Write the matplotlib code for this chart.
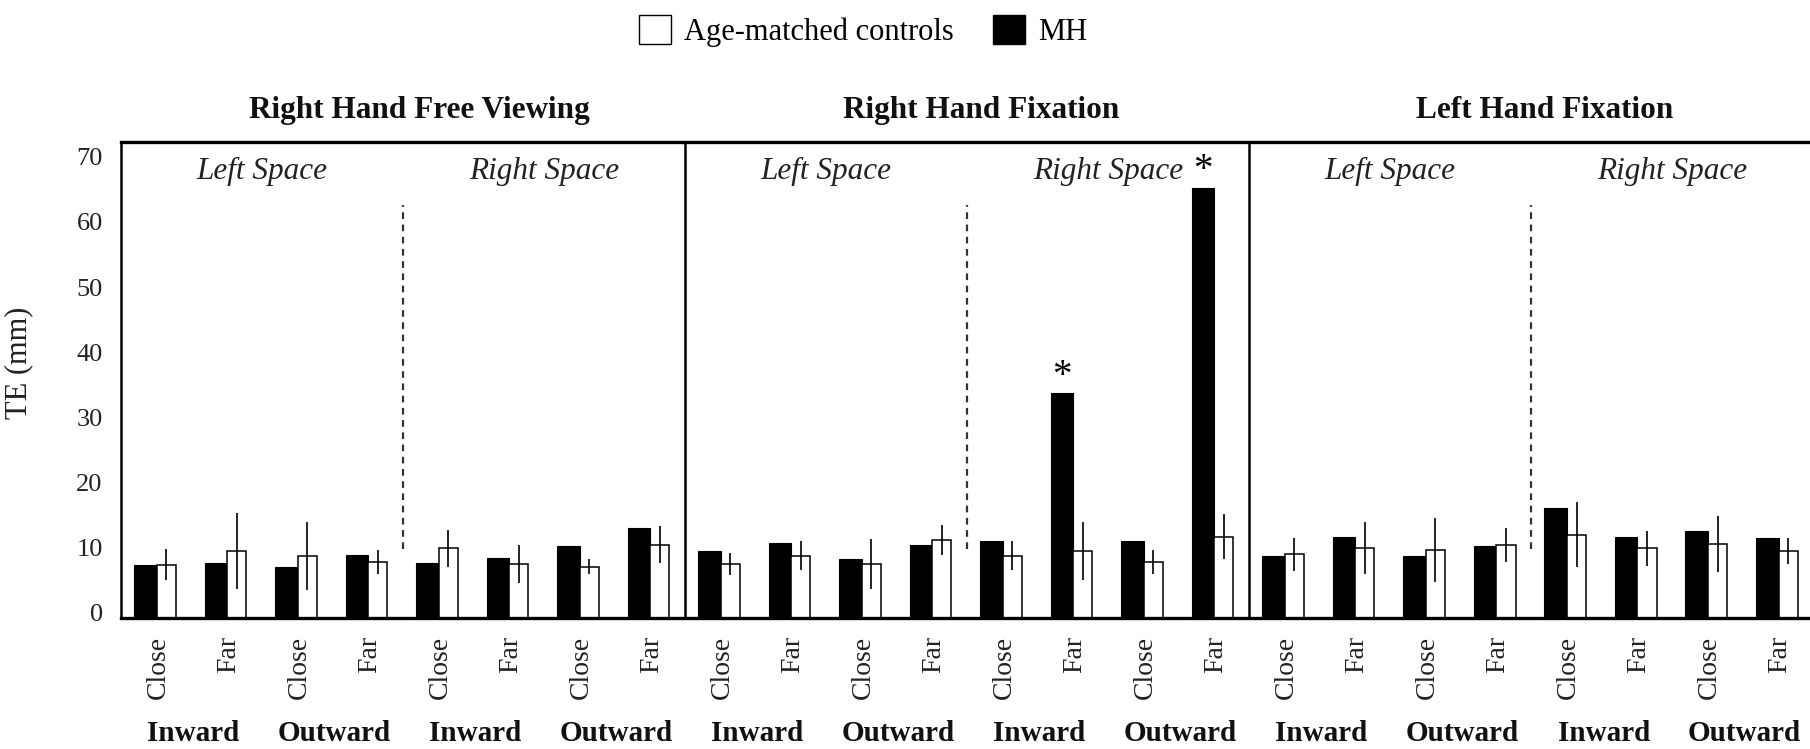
import matplotlib.pyplot as plt
from matplotlib.patches import Patch
import numpy as np

plt.rcParams['font.family'] = ['Liberation Serif', 'DejaVu Serif']

panels = ["Right Hand Free Viewing", "Right Hand Fixation", "Left Hand Fixation"]
spaces = ["Left Space", "Right Space"]
directions = ["Inward", "Outward"]
distances = ["Close", "Far"]

# per panel: Left Space (In-Close, In-Far, Out-Close, Out-Far), then Right Space (same order)
mh = [
    [7.3, 7.6, 7.0, 8.8, 7.6, 8.3, 10.2, 12.9],
    [9.4, 10.7, 8.2, 10.4, 11.0, 33.7, 11.0, 65.3],
    [8.6, 11.6, 8.6, 10.1, 16.0, 11.6, 12.5, 11.4],
]
controls = [
    [7.3, 9.4, 8.6, 7.7, 9.8, 7.4, 7.0, 10.4],
    [7.4, 8.7, 7.4, 11.1, 8.7, 9.4, 7.7, 11.6],
    [8.9, 9.8, 9.6, 10.3, 11.9, 9.8, 10.5, 9.4],
]
controls_err = [
    [2.4, 5.9, 5.2, 1.8, 2.8, 2.9, 1.2, 2.8],
    [1.7, 2.2, 3.8, 2.3, 2.2, 4.5, 1.9, 3.5],
    [2.5, 4.0, 4.9, 2.6, 5.0, 2.7, 4.3, 2.0],
]
significant = [
    [0, 0, 0, 0, 0, 0, 0, 0],
    [0, 0, 0, 0, 0, 1, 0, 1],
    [0, 0, 0, 0, 0, 0, 0, 0],
]

mh_all = np.array(mh).ravel()
ctrl_all = np.array(controls).ravel()
err_all = np.array(controls_err).ravel()
sig_all = np.array(significant).ravel()
n = len(mh_all)
x = np.arange(n) + 0.5

y_floor, y_top = -0.9, 72.3

fig = plt.figure(figsize=(18.1, 7.49), dpi=100)
ax = fig.add_axes([0.0667, 0.1749, 0.935, 0.6355])

# bars start at the axis line, like the original figure
ax.bar(x - 0.15, mh_all - y_floor, bottom=y_floor, width=0.32,
       color='black', edgecolor='black', linewidth=0.8)
ax.bar(x + 0.145, ctrl_all - y_floor, bottom=y_floor, width=0.27,
       color='white', edgecolor='black', linewidth=1.1)
ax.errorbar(x + 0.145, ctrl_all, yerr=err_all, fmt='none', ecolor='black',
            elinewidth=1.2, capsize=0)

for xi, v, s in zip(x, mh_all, sig_all):
    if s:
        ax.annotate('*', (xi - 0.15, v), xytext=(0, 12), textcoords='offset points',
                    ha='center', va='center', fontsize=28)

ax.set_xlim(0, n)
ax.set_ylim(y_floor, y_top)
ax.set_yticks(range(0, 71, 10))
ax.tick_params(axis='y', length=0, pad=13, labelsize=19, labelcolor='#222222')

ax.set_xticks(x + 0.03)
ax.set_xticklabels(distances * (n // 2), rotation=90, fontsize=20, color='#222222')
ax.tick_params(axis='x', length=0, pad=13)

ax.set_ylabel("TE (mm)", fontsize=22, color='#222222')
ax.yaxis.set_label_coords(-0.0518, 0.536)

for sp in ['top', 'bottom']:
    ax.spines[sp].set_linewidth(2.4)
ax.spines['left'].set_linewidth(1.8)
ax.spines['right'].set_visible(False)

trans = ax.get_xaxis_transform()
title_shift = [0.23, 0.2, 0.2]
for p, title in enumerate(panels):
    start = p * 8
    if p > 0:
        ax.axvline(start, color='black', lw=1.8)
    ax.plot([start + 4, start + 4], [9.7, 62.6], ls=(0, (3, 2.5)), color='#333333', lw=1.6)
    ax.text(start + 4 + title_shift[p], 1.050, title, transform=trans, ha='center',
            va='baseline', fontsize=22.5, fontweight='bold', color='#111111')
    for s, sname in enumerate(spaces):
        ax.text(start + 2 + 4 * s, 67.7, sname, ha='center', va='center',
                fontsize=22.5, style='italic', color='#222222')
    for d in range(4):
        ax.text(start + 2 * d + 1.03, -0.2437, directions[d % 2], transform=trans,
                ha='center', va='center', fontsize=21, fontweight='bold', color='#111111')

handles = [Patch(facecolor='white', edgecolor='black', label='Age-matched controls'),
           Patch(facecolor='black', edgecolor='black', label='MH')]
fig.legend(handles=handles, loc='center', bbox_to_anchor=(0.4768, 0.9586), ncol=2,
           frameon=False, fontsize=22, handlelength=1.05, handleheight=1.05,
           columnspacing=1.27, handletextpad=0.42, borderpad=0.2)

fig.savefig('out.png', dpi=100)
